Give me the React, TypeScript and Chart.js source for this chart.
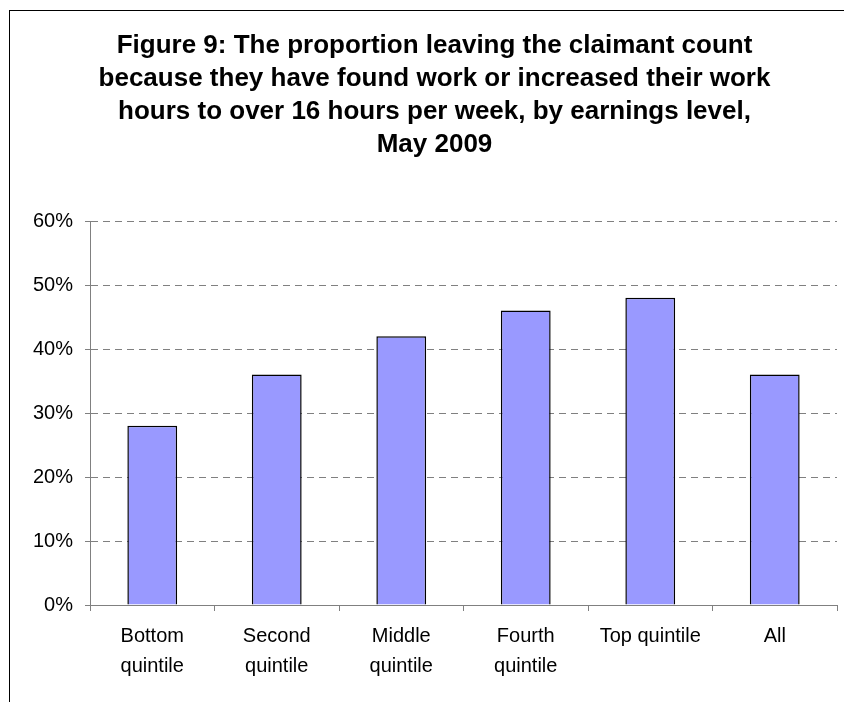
import React, { useEffect, useRef } from "react";
import { Chart, registerables } from "chart.js";

Chart.register(...registerables);

const titleLines = [
  "Figure 9: The proportion leaving the claimant count",
  "because they have found work or increased their work",
  "hours to over 16 hours per week, by earnings level,",
  "May 2009",
];
const categories: (string | string[])[] = [
  ["Bottom", "quintile"],
  ["Second", "quintile"],
  ["Middle", "quintile"],
  ["Fourth", "quintile"],
  "Top quintile",
  "All",
];
const values = [28, 36, 42, 46, 48, 36];
const yTicks = { min: 0, max: 60, step: 10 };

const FONT = "'Liberation Sans', Arial, sans-serif";

const shiftTitle = {
  id: "shiftTitle",
  afterLayout(chart: any) {
    const t = chart.titleBlock;
    if (t) {
      t.left += 16;
      t.right += 16;
    }
  },
};

export default function App() {
  const ref = useRef<HTMLCanvasElement | null>(null);
  useEffect(() => {
    if (!ref.current) return;
    const chart = new Chart(ref.current, {
      type: "bar",
      data: {
        labels: categories,
        datasets: [
          {
            data: values,
            backgroundColor: "#9999FF",
            borderColor: "#000000",
            borderWidth: 1.5,
            barPercentage: 0.4,
            categoryPercentage: 1,
          },
        ],
      },
      plugins: [shiftTitle],
      options: {
        responsive: false,
        animation: false,
        layout: { padding: { left: 0, right: 7, top: 0, bottom: 0 } },
        plugins: {
          legend: { display: false },
          tooltip: { enabled: false },
          title: {
            display: true,
            text: titleLines,
            color: "#000",
            font: { family: FONT, size: 26, weight: "bold", lineHeight: 33 / 26 },
            padding: { top: 29.5, bottom: 59.5 },
          },
        },
        scales: {
          x: {
            grid: {
              display: true,
              drawOnChartArea: false,
              drawTicks: true,
              tickLength: 6,
              tickColor: "#808080",
              offset: true,
            },
            border: { display: true, color: "#808080", width: 1 },
            ticks: {
              color: "#000",
              font: { family: FONT, size: 20, lineHeight: 1.5 },
              padding: 10,
              maxRotation: 0,
              autoSkip: false,
            },
            afterFit: (s: any) => {
              s.height = 97;
            },
          },
          y: {
            min: yTicks.min,
            max: yTicks.max,
            grid: {
              color: "#808080",
              lineWidth: 1,
              drawTicks: true,
              tickLength: 5,
              tickColor: "#808080",
            },
            border: { display: true, color: "#808080", width: 1, dash: [7, 5] },
            ticks: {
              stepSize: yTicks.step,
              color: "#000",
              font: { family: FONT, size: 20 },
              padding: 12,
              callback: (v: any) => v + "%",
            },
            afterFit: (s: any) => {
              s.width = 90;
            },
          },
        },
      },
    });
    return () => chart.destroy();
  }, []);

  return (
    <>
      <div
        style={{
          position: "absolute",
          left: 9,
          top: 10,
          width: 835,
          height: 692,
          borderTop: "1px solid #000",
          borderLeft: "1px solid #000",
          boxSizing: "border-box",
        }}
      />
      <canvas
        ref={ref}
        width={844}
        height={702}
        style={{ position: "absolute", left: 0, top: 0, width: 844, height: 702 }}
      />
    </>
  );
}
